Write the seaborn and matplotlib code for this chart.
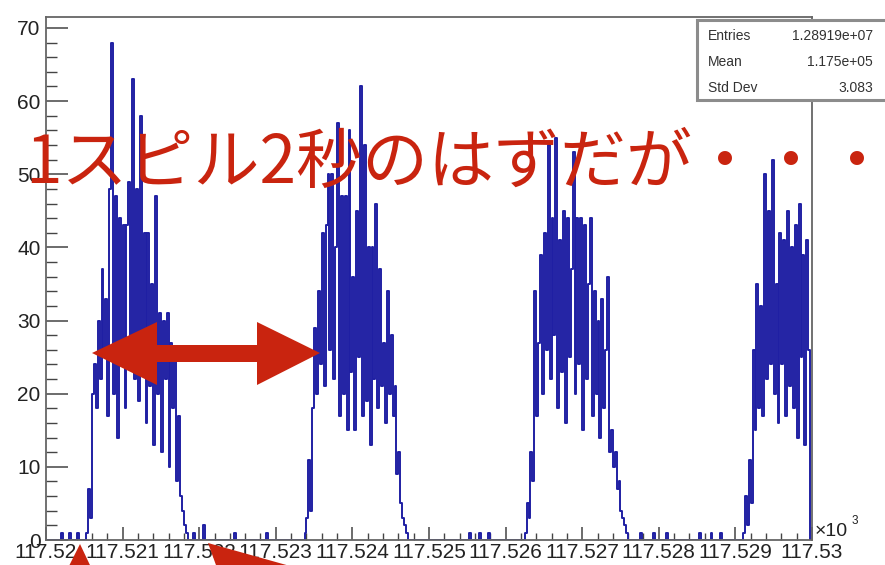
import numpy as np
import pandas as pd
import matplotlib
matplotlib.use("Agg")
import matplotlib.pyplot as plt
from matplotlib.patches import Polygon, Rectangle
import seaborn as sns

# ---------------- data ----------------
bin_width = 0.000025                      # x10^3 units
x_range = (117.520, 117.530)
spill_start = [117.520525, 117.523375, 117.52625, 117.5291]
spill1 = [1, 7, 3, 20, 24, 18, 30, 22, 37, 25, 33, 17, 48, 68, 20, 47, 14, 44, 27, 43,
          18, 43, 49, 24, 63, 22, 48, 19, 58, 25, 42, 16, 42, 21, 35, 13, 47, 20, 31, 12,
          30, 22, 31, 10, 27, 18, 25, 8, 17, 6, 4, 2, 1]
spill2 = [1, 3, 11, 4, 18, 29, 20, 34, 24, 42, 21, 43, 50, 26, 50, 22, 40, 57, 17, 47,
          20, 47, 15, 56, 23, 36, 15, 45, 25, 62, 17, 54, 19, 40, 13, 40, 22, 46, 18, 37,
          21, 27, 16, 34, 20, 28, 17, 21, 9, 12, 5, 3, 2, 1]
spill3 = [1, 5, 3, 12, 8, 34, 17, 27, 39, 20, 42, 26, 54, 22, 44, 28, 55, 18, 41, 23,
          45, 16, 44, 25, 37, 53, 20, 44, 24, 44, 15, 43, 22, 35, 44, 17, 34, 20, 30, 14,
          33, 18, 26, 36, 12, 15, 10, 12, 7, 8, 4, 3, 2, 1]
spill4 = [1, 6, 2, 11, 5, 26, 15, 35, 18, 32, 17, 50, 22, 45, 24, 52, 20, 35, 16, 42,
          24, 41, 17, 45, 21, 40, 18, 43, 14, 46, 25, 39, 13, 41, 26]
# isolated counts between spills
blip_t = [117.520209, 117.520301, 117.520405, 117.521948, 117.522065, 117.52247,
          117.522889, 117.52553, 117.52566, 117.525778, 117.527752, 117.527948,
          117.528105, 117.528536, 117.528693, 117.528824]
blip_n = [1, 1, 1, 1, 2, 1, 1, 1, 1, 1, 1, 1, 1, 1, 1, 1]

x_ticks = [117.520, 117.521, 117.522, 117.523, 117.524, 117.525,
           117.526, 117.527, 117.528, 117.529, 117.530]
x_tick_labels = ["117.52", "117.521", "117.522", "117.523", "117.524", "117.525",
                 "117.526", "117.527", "117.528", "117.529", "117.53"]
y_ticks = [0, 10, 20, 30, 40, 50, 60, 70]
y_max = 71.5

stats_names = ["Entries", "Mean", "Std Dev"]
stats_values = ["1.28919e+07", "1.175e+05", "3.083"]
overlay_text = "1スピル2秒のはずだが・・・"

# ---------------- build table ----------------
t_list, n_list = [], []
for start, counts in zip(spill_start, [spill1, spill2, spill3, spill4]):
    for i, c in enumerate(counts):
        t_list.append(start + (i + 0.5) * bin_width)
        n_list.append(c)
t_list += blip_t
n_list += blip_n
df = pd.DataFrame({"t": t_list, "n": n_list})

# ---------------- figure ----------------
sns.set_style("ticks")
plt.rcParams["font.family"] = ["Liberation Sans", "DejaVu Sans"]

W, H = 885, 565
fig = plt.figure(figsize=(W / 100, H / 100), dpi=100)
ax = fig.add_axes([46 / W, 25 / H, (812 - 46) / W, (540 - 17) / H])

sns.histplot(data=df, x="t", weights="n", binwidth=bin_width, binrange=x_range,
             element="step", fill=False, color="#1f1fa3", linewidth=1.4, ax=ax)

ax.set_xlim(*x_range)
ax.set_ylim(0, y_max)
ax.set_xlabel("")
ax.set_ylabel("")
ax.set_xticks(x_ticks)
ax.set_xticklabels(x_tick_labels)
ax.set_xticks(np.arange(x_range[0], x_range[1] + 1e-9, 0.0002), minor=True)
ax.set_yticks(y_ticks)
ax.set_yticks(np.arange(0, 71, 2), minor=True)

tick_col = "#444444"
ax.tick_params(axis="x", which="major", direction="in", length=9.5, width=1.1,
               colors=tick_col, labelsize=15, pad=2, labelcolor="#222222")
ax.tick_params(axis="x", which="minor", direction="in", length=5, width=1.0, colors=tick_col)
ax.tick_params(axis="y", which="major", direction="in", length=16, width=1.1,
               colors=tick_col, labelsize=15, pad=4, labelcolor="#222222")
ax.tick_params(axis="y", which="minor", direction="in", length=8, width=1.0, colors=tick_col)
for s in ax.spines.values():
    s.set_visible(True)
    s.set_color("#666666")
    s.set_linewidth(1.3)

def P(x, y):
    return (x / W, 1 - y / H)

# x10^3 label
fig.text(815 / W, 1 - 532 / H, "×10", fontsize=14, color="#222222", va="center", ha="left")
fig.text(852 / W, 1 - 521 / H, "3", fontsize=8.5, color="#222222", va="center", ha="left")

# stats box
box = Rectangle(P(697, 100), 260 / W, 80 / H, transform=fig.transFigure,
                facecolor="white", edgecolor="#8c8c8c", linewidth=2.2, zorder=5, clip_on=False)
fig.add_artist(box)
for name, val, yy in zip(stats_names, stats_values, [36, 62, 88]):
    fig.text(708 / W, 1 - yy / H, name, fontsize=10, color="#333333", va="center",
             ha="left", zorder=6)
    fig.text(873 / W, 1 - yy / H, val, fontsize=10, color="#333333", va="center",
             ha="right", zorder=6)

# red overlay annotation
red = "#c9240f"
fig.text(25 / W, 1 - 164 / H, overlay_text, fontsize=47.5, color=red, va="center",
         ha="left", family=["Noto Sans CJK JP", "DejaVu Sans"], zorder=10)

arrow_pts = [P(92, 353), P(157, 322), P(157, 345), P(257, 345), P(257, 322),
             P(320, 353), P(257, 385), P(257, 362), P(157, 362), P(157, 385)]
fig.add_artist(Polygon(arrow_pts, closed=True, transform=fig.transFigure,
                       facecolor=red, edgecolor="none", zorder=10))
tri1 = [P(80, 544), P(62, 580), P(97, 580)]
fig.add_artist(Polygon(tri1, closed=True, transform=fig.transFigure,
                       facecolor=red, edgecolor="none", zorder=10))
tri2 = [P(208, 543), P(290, 566), P(225, 590)]
fig.add_artist(Polygon(tri2, closed=True, transform=fig.transFigure,
                       facecolor=red, edgecolor="none", zorder=10))

fig.savefig("out.png", dpi=100)
